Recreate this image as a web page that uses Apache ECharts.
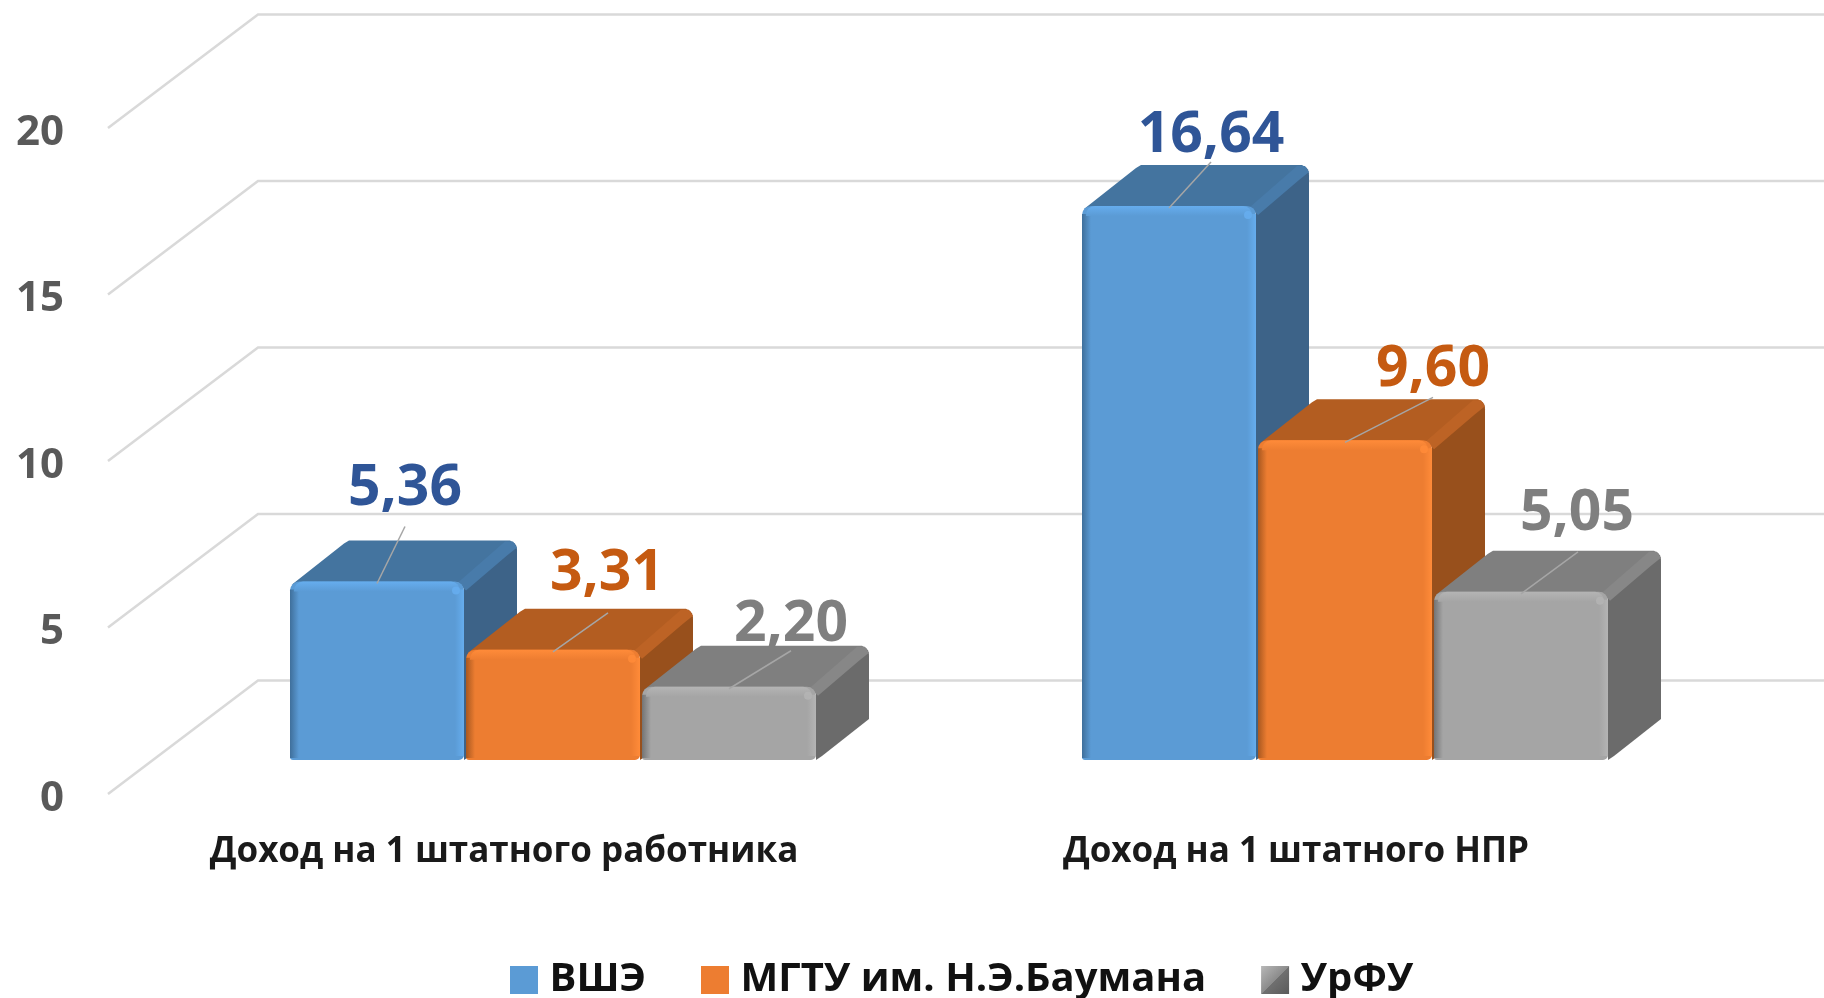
<!DOCTYPE html>
<html><head><meta charset="utf-8">
<style>html,body{margin:0;padding:0;background:#fff}#c{width:1824px;height:998px}</style>
<script src="https://cdn.jsdelivr.net/npm/echarts@6/dist/echarts.min.js"></script>
</head><body><div id="c"></div>
<script>
var categories = ['Доход на 1 штатного работника', 'Доход на 1 штатного НПР'];
var seriesNames = ['ВШЭ', 'МГТУ им. Н.Э.Баумана', 'УрФУ'];
var valuesHSE = [5.36, 16.64];
var valuesBauman = [3.31, 9.60];
var valuesUrFU = [2.20, 5.05];
var yTicks = [0, 5, 10, 15, 20];

var seriesValues = [valuesHSE, valuesBauman, valuesUrFU];
var faces = [
  {front:'#5B9BD5', hi:'#66ADEE', dark:'#3F6F9B', top:'#44749F', edge:'#487BAA', side:'#3D6388', label:'#2F5597'},
  {front:'#ED7D31', hi:'#FF8B39', dark:'#A85820', top:'#B35D21', edge:'#BD6325', side:'#98501C', label:'#C55A11'},
  {front:'#A5A5A5', hi:'#B4B4B4', dark:'#747474', top:'#7F7F7F', edge:'#878787', side:'#6B6B6B', label:'#7F7F7F'}
];
// label centre and leader-line end relative to the top centre of the bar front, per series / category
var labelOffset = [[[28,-93],[42,-70]], [[54,-76],[88,-71]], [[62,-62],[56,-78]]];
var leaderEnd  = [[[28,-55],[42,-44]], [[55,-37],[88,-43]], [[62,-36],[57,-40]]];

var BAR_W = 174, BAR_STEP = 176, SHIFT_X = 49, SHIFT_Y = -34, DEPTH_X = 53, DEPTH_Y = -41;
var WALL_X = 150, WALL_Y = -113.5, R = 9;
var grad = function (x, y, x2, y2, a, b) {
  return new echarts.graphic.LinearGradient(x, y, x2, y2, [{offset:0,color:a},{offset:1,color:b}]);
};

function renderBar(si) {
  return function (params, api) {
    var cat = api.value(0), val = api.value(1), f = faces[si];
    var top = api.coord([cat, val]), base = api.coord([cat, 0]);
    var xl = top[0] + SHIFT_X - BAR_W * 1.5 - (BAR_STEP - BAR_W) + si * BAR_STEP;
    var xr = xl + BAR_W, yt = top[1] + SHIFT_Y, yb = base[1] + SHIFT_Y;
    var h = yb - yt, dx = DEPTH_X, dy = DEPTH_Y, xc = xl + BAR_W / 2;
    var lab = labelOffset[si][cat], end = leaderEnd[si][cat];
    var topPoly = [[xl+2,yt+3],[xl+dx+1,yt+dy+3],[xl+dx+6,yt+dy],[xr+dx-7,yt+dy],[xr+dx-2,yt+dy+3],[xr+dx,yt+dy+9],[xr,yt+8],[xr-3,yt+1]];
    var sidePoly = [[xr,yt+6],[xr+dx-1,yt+dy+4],[xr+dx,yt+dy+10],[xr+dx,yb+dy],[xr+6,yb-4],[xr,yb]];
    var edgePoly = [[xr-6,yt+1],[xr+dx-12,yt+dy+1],[xr+dx-4,yt+dy+1],[xr+dx,yt+dy+7],[xr+dx-10,yt+dy+15],[xr+2,yt+9]];
    var ch = [
      {type:'polygon',shape:{points:topPoly},style:{fill:f.top}},
      {type:'polygon',shape:{points:sidePoly},style:{fill:f.side}},
      {type:'polygon',shape:{points:edgePoly},style:{fill:f.edge}},
      {type:'rect',shape:{x:xl,y:yt,width:BAR_W,height:h,r:[R,R,5,3]},style:{fill:f.front}},
      {type:'rect',shape:{x:xl,y:yt+8,width:9,height:h-10},style:{fill:grad(0,0,1,0,f.dark,f.front)}},
      {type:'rect',shape:{x:xr-9,y:yt+8,width:9,height:h-12},style:{fill:grad(0,0,1,0,f.front,f.hi)}},
      {type:'rect',shape:{x:xl+4,y:yt,width:BAR_W-8,height:10,r:[R,R,0,0]},style:{fill:grad(0,0,0,1,f.hi,f.front)}},
      {type:'circle',shape:{cx:xr-8,cy:yt+9,r:4},style:{fill:f.hi,opacity:0.9}},
      {type:'line',shape:{x1:xc,y1:yt+2,x2:xc+end[0],y2:yt+end[1]},style:{stroke:'#A6A6A6',lineWidth:1.5}},
      {type:'text',style:{x:xc+lab[0],y:yt+lab[1],text:val.toFixed(2).replace('.',','),fill:f.label,
        font:'bold 57px "Open Sans"',align:'center',verticalAlign:'middle'},z2:20}
    ];
    return {type:'group',children:ch};
  };
}

function renderGrid(params, api) {
  var p = api.coord([0, api.value(0)]), x0 = params.coordSys.x;
  return {type:'polyline',shape:{points:[[x0,p[1]],[x0+WALL_X,p[1]+WALL_Y],[api.getWidth(),p[1]+WALL_Y]]},
    style:{stroke:'#D9D9D9',lineWidth:2.5,fill:null}};
}

var series = [{type:'custom',name:'grid',silent:true,z:1,renderItem:renderGrid,encode:{y:0},
  data:yTicks.map(function(v){return [v];})}];
seriesNames.forEach(function (n, si) {
  series.push({type:'custom',name:n,z:2+si,renderItem:renderBar(si),encode:{x:0,y:1},
    itemStyle:{color:faces[si].front},
    data:seriesValues[si].map(function(v,i){return [i,v];})});
});

var chart = echarts.init(document.getElementById('c'), null, {renderer:'canvas'});
chart.setOption({
  animation:false,
  backgroundColor:'#fff',
  grid:{left:108,top:128,width:1584,height:666},
  xAxis:{type:'category',data:categories,axisLine:{show:false},axisTick:{show:false},
    axisLabel:{margin:41,color:'#1a1a1a',fontFamily:'Open Sans',fontWeight:'bold',fontSize:35,interval:0}},
  yAxis:{type:'value',min:0,max:20,interval:5,axisLine:{show:false},axisTick:{show:false},splitLine:{show:false},
    axisLabel:{margin:44,formatter:'{v|{value}}',
      rich:{v:{color:'#595959',fontFamily:'Open Sans',fontWeight:'bold',fontSize:42,padding:[10,0,0,0]}}}},
  legend:{left:505,top:955,itemWidth:28,itemHeight:28,itemGap:55,icon:'rect',
    textStyle:{color:'#111',fontFamily:'Open Sans',fontWeight:'bold',fontSize:40,padding:[0,0,0,6.5]},
    data:[
      {name:seriesNames[0],itemStyle:{color:'#5B9BD5'}},
      {name:seriesNames[1],itemStyle:{color:'#ED7D31'}},
      {name:seriesNames[2],itemStyle:{color:new echarts.graphic.LinearGradient(0,0,1,1,[
        {offset:0,color:'#B8B8B8'},{offset:0.5,color:'#8C8C8C'},{offset:0.5,color:'#707070'},{offset:1,color:'#5A5A5A'}])}}
    ]},
  tooltip:{show:false},
  series:series
});
</script></body></html>
